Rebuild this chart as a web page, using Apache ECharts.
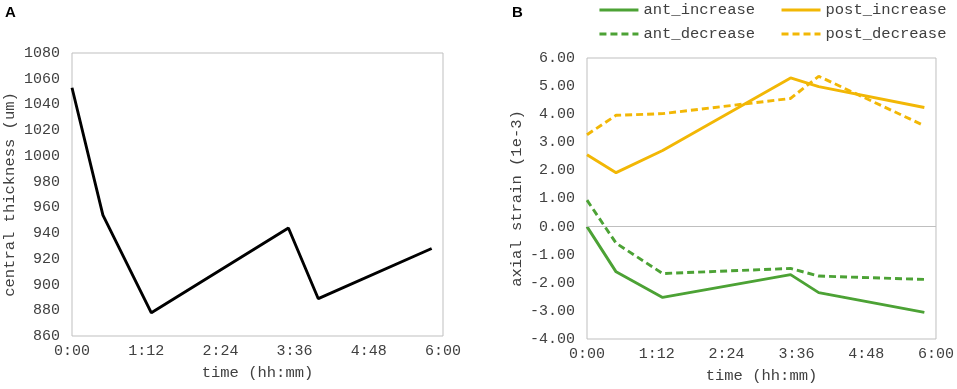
<!DOCTYPE html>
<html>
<head>
<meta charset="utf-8">
<script src="https://cdn.jsdelivr.net/npm/echarts@6/dist/echarts.min.js"></script>
<style>
html,body{margin:0;padding:0;background:#fff;}
#c{width:957px;height:389px;}
</style>
</head>
<body>
<div id="c"></div>
<script>
// time points in minutes
var timesA = [0, 30, 77, 210, 239, 349];
var thickness = [1053, 954, 878, 944, 889, 928];

var timesB = [0, 30, 78, 210, 239, 348];
var antIncrease = [0.00, -1.61, -2.52, -1.71, -2.35, -3.05];
var antDecrease = [0.94, -0.59, -1.67, -1.49, -1.76, -1.88];
var postIncrease = [2.56, 1.92, 2.71, 5.29, 4.98, 4.24];
var postDecrease = [3.27, 3.96, 4.02, 4.56, 5.35, 3.59];

var xTickLabels = ['0:00', '1:12', '2:24', '3:36', '4:48', '6:00'];

function pair(xs, ys) { return xs.map(function (x, i) { return [x, ys[i]]; }); }

var FONT = 'Liberation Mono';
var TXT = '#404040';
var GREEN = '#4CA235';
var GOLD = '#F2B705';
var LW = 2.9;

function xAxisCfg(gi) {
  return {
    type: 'value', gridIndex: gi, min: 0, max: 360, interval: 72,
    axisLine: { show: false }, axisTick: { show: false }, splitLine: { show: false },
    axisLabel: { color: TXT, fontFamily: FONT, fontSize: 15, margin: 8,
      formatter: function (v) { return xTickLabels[Math.round(v / 72)]; } },
    name: 'time (hh:mm)', nameLocation: 'middle', nameGap: 29,
    nameTextStyle: { color: TXT, fontFamily: FONT, fontSize: 15.5 }
  };
}

function legendCfg(items, top) {
  return { data: items, left: 598, top: top, padding: 0, itemWidth: 39, itemHeight: 14, itemGap: 25,
    itemStyle: { opacity: 0 },
    lineStyle: { width: LW },
    textStyle: { color: TXT, fontFamily: FONT, fontSize: 15.5 } };
}

var option = {
  animation: false,
  backgroundColor: '#fff',
  graphic: [
    { type: 'text', left: 5, top: 5, style: { text: 'A', font: 'bold 15px "Liberation Sans"', fill: '#000' } },
    { type: 'text', left: 512, top: 5, style: { text: 'B', font: 'bold 15px "Liberation Sans"', fill: '#000' } }
  ],
  legend: [
    legendCfg(['ant_increase', 'post_increase'], 2),
    legendCfg(['ant_decrease', 'post_decrease'], 26)
  ],
  grid: [
    { left: 72, top: 53, width: 371, height: 283, show: true, borderColor: '#BFBFBF', borderWidth: 1, containLabel: false },
    { left: 587, top: 58, width: 363, height: 283, show: true, borderColor: '#BFBFBF', borderWidth: 1, containLabel: false }
  ],
  xAxis: [xAxisCfg(0), xAxisCfg(1)],
  yAxis: [
    { type: 'value', gridIndex: 0, min: 860, max: 1080, interval: 20,
      axisLine: { show: false }, axisTick: { show: false }, splitLine: { show: false },
      axisLabel: { color: TXT, fontFamily: FONT, fontSize: 15, margin: 12,
        formatter: function (v) { return String(v); } },
      name: 'central thickness (um)', nameLocation: 'middle', nameGap: 54,
      nameTextStyle: { color: TXT, fontFamily: FONT, fontSize: 15.5 } },
    { type: 'value', gridIndex: 1, min: -4, max: 6, interval: 1,
      axisLine: { show: false }, axisTick: { show: false }, splitLine: { show: false },
      axisLabel: { color: TXT, fontFamily: FONT, fontSize: 15, margin: 12,
        formatter: function (v) { return v.toFixed(2); } },
      name: 'axial strain (1e-3)', nameLocation: 'middle', nameGap: 62,
      nameTextStyle: { color: TXT, fontFamily: FONT, fontSize: 15.5 } }
  ],
  series: [
    { name: 'thickness', type: 'line', xAxisIndex: 0, yAxisIndex: 0, symbol: 'none',
      data: pair(timesA, thickness), lineStyle: { color: '#000', width: LW } },
    { name: 'ant_increase', type: 'line', xAxisIndex: 1, yAxisIndex: 1, symbol: 'none',
      data: pair(timesB, antIncrease), color: GREEN, lineStyle: { color: GREEN, width: LW },
      markLine: { silent: true, symbol: 'none', label: { show: false },
        lineStyle: { color: '#BFBFBF', width: 1, type: 'solid' }, data: [{ yAxis: 0 }] } },
    { name: 'post_increase', type: 'line', xAxisIndex: 1, yAxisIndex: 1, symbol: 'none',
      data: pair(timesB, postIncrease), color: GOLD, lineStyle: { color: GOLD, width: LW } },
    { name: 'ant_decrease', type: 'line', xAxisIndex: 1, yAxisIndex: 1, symbol: 'none',
      data: pair(timesB, antDecrease), color: GREEN, lineStyle: { color: GREEN, width: LW, type: [7, 4] } },
    { name: 'post_decrease', type: 'line', xAxisIndex: 1, yAxisIndex: 1, symbol: 'none',
      data: pair(timesB, postDecrease), color: GOLD, lineStyle: { color: GOLD, width: LW, type: [7, 4] } }
  ]
};

var chart = echarts.init(document.getElementById('c'), null, { renderer: 'canvas' });
chart.setOption(option);
</script>
</body>
</html>
